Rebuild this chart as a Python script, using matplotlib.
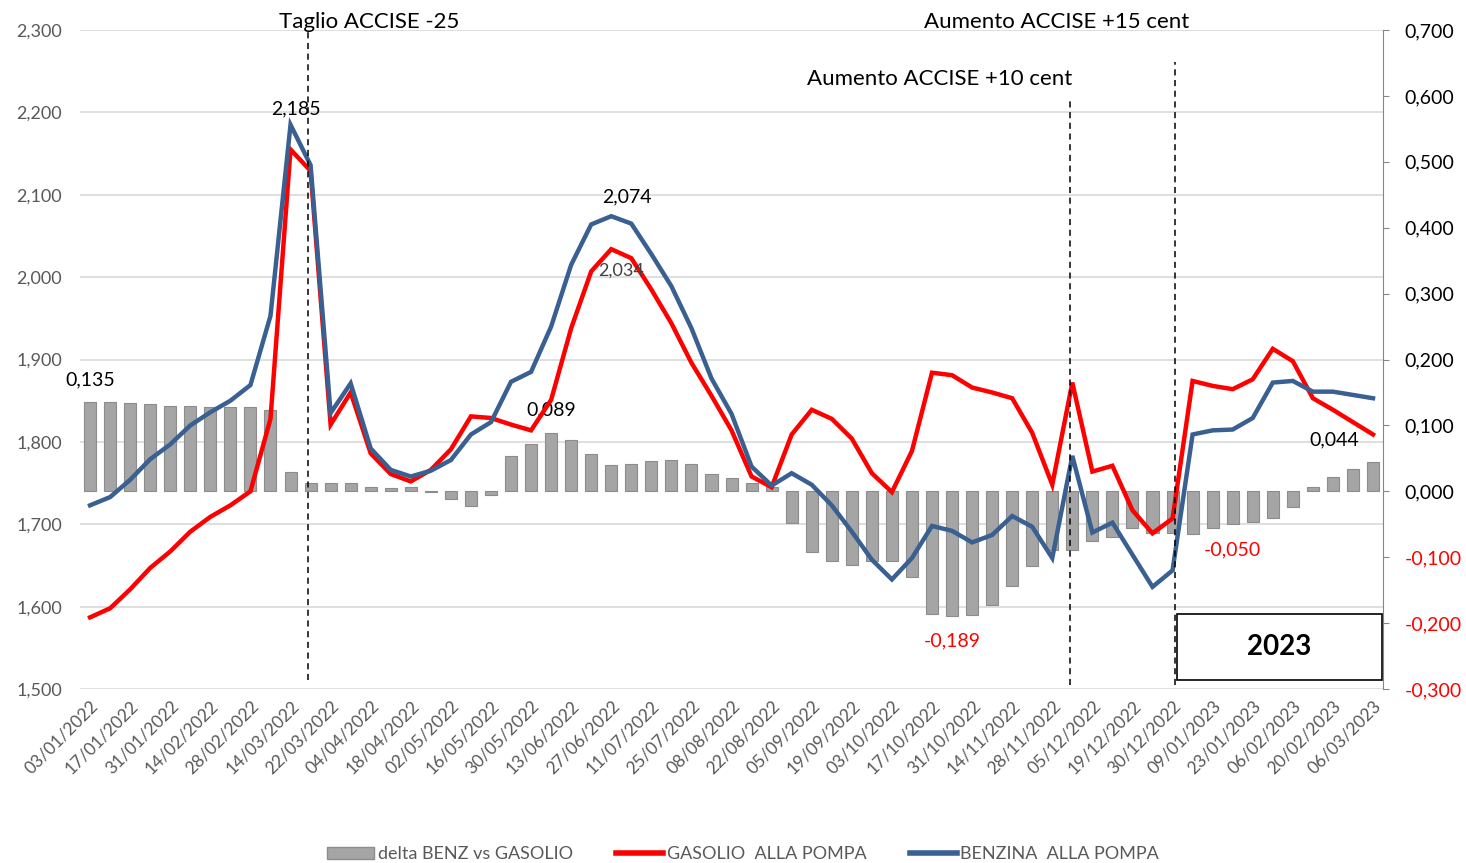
import numpy as np
import matplotlib.pyplot as plt
from matplotlib.patches import Rectangle, Patch
from matplotlib.lines import Line2D
from matplotlib.ticker import FuncFormatter

plt.rcParams['font.family'] = ['Lato', 'DejaVu Sans']

# weekly prices (EUR/l)
benzina = [1.723, 1.733, 1.754, 1.779, 1.797, 1.820, 1.836, 1.850, 1.869, 1.953,
           2.185, 2.136, 1.835, 1.871, 1.792, 1.766, 1.758, 1.765, 1.778, 1.809,
           1.824, 1.873, 1.885, 1.940, 2.015, 2.064, 2.074, 2.065, 2.028, 1.989,
           1.938, 1.877, 1.834, 1.770, 1.747, 1.762, 1.748, 1.723, 1.691, 1.657,
           1.633, 1.659, 1.698, 1.692, 1.678, 1.687, 1.710, 1.697, 1.659, 1.783,
           1.690, 1.702, 1.663, 1.624, 1.644, 1.809, 1.814, 1.815, 1.829, 1.872,
           1.874, 1.861, 1.861, 1.857, 1.853]
gasolio = [1.587, 1.598, 1.621, 1.647, 1.667, 1.691, 1.709, 1.723, 1.740, 1.828,
           2.155, 2.129, 1.821, 1.860, 1.786, 1.761, 1.752, 1.766, 1.791, 1.831,
           1.829, 1.821, 1.814, 1.851, 1.938, 2.007, 2.034, 2.023, 1.985, 1.944,
           1.896, 1.856, 1.814, 1.758, 1.745, 1.809, 1.839, 1.828, 1.804, 1.762,
           1.739, 1.789, 1.884, 1.881, 1.866, 1.860, 1.853, 1.811, 1.748, 1.872,
           1.764, 1.771, 1.717, 1.689, 1.707, 1.874, 1.868, 1.864, 1.876, 1.913,
           1.898, 1.853, 1.839, 1.824, 1.809]
delta = [0.135, 0.136, 0.134, 0.132, 0.130, 0.129, 0.128, 0.128, 0.128, 0.124,
         0.030, 0.013, 0.013, 0.012, 0.006, 0.005, 0.007, -0.001, -0.012, -0.022,
         -0.005, 0.053, 0.072, 0.089, 0.078, 0.057, 0.040, 0.042, 0.046, 0.047,
         0.042, 0.026, 0.020, 0.013, 0.006, -0.048, -0.092, -0.106, -0.112, -0.106,
         -0.106, -0.130, -0.186, -0.189, -0.188, -0.172, -0.143, -0.113, -0.089, -0.089,
         -0.075, -0.069, -0.055, -0.064, -0.064, -0.065, -0.055, -0.050, -0.046, -0.041,
         -0.024, 0.007, 0.022, 0.034, 0.044]

date_labels = ['03/01/2022', '17/01/2022', '31/01/2022', '14/02/2022', '28/02/2022',
               '14/03/2022', '22/03/2022', '04/04/2022', '18/04/2022', '02/05/2022',
               '16/05/2022', '30/05/2022', '13/06/2022', '27/06/2022', '11/07/2022',
               '25/07/2022', '08/08/2022', '22/08/2022', '05/09/2022', '19/09/2022',
               '03/10/2022', '17/10/2022', '31/10/2022', '14/11/2022', '28/11/2022',
               '05/12/2022', '19/12/2022', '30/12/2022', '09/01/2023', '23/01/2023',
               '06/02/2023', '20/02/2023', '06/03/2023']

# events: (position between weeks, text)
events_x = [10.85, 48.9, 54.1]

x = np.arange(len(benzina))
gray_txt = '#595959'
blue = '#3A6091'
red = '#FF0000'

def fmt(v):
    return f"{v:.3f}".replace('.', ',')

fig = plt.figure(figsize=(14.66, 8.63), dpi=100)
ax = fig.add_axes([0.0546, 0.2016, 0.8888, 0.7636])
ax.set_xlim(-0.5, len(x) - 0.5)
ax.set_ylim(1.5, 2.3)
ax.set_yticks(np.arange(1.5, 2.31, 0.1))
ax.yaxis.set_major_formatter(FuncFormatter(lambda v, p: fmt(v)))
ax.grid(axis='y', color='#D9D9D9', linewidth=1.2)
ax.set_axisbelow(True)
for s in ax.spines.values():
    s.set_visible(False)
ax.tick_params(axis='y', length=0, pad=13, labelsize=13, labelcolor=gray_txt)
ax.set_xticks(x[::2])
ax.set_xticklabels(date_labels, rotation=45, ha='right', rotation_mode='anchor')
ax.tick_params(axis='x', length=0, pad=6, labelsize=12.5, labelcolor=gray_txt)

# bars on right axis
axb = ax.twinx()
axb.set_ylim(-0.3, 0.7)
axb.set_yticks(np.arange(-0.3, 0.71, 0.1))
axb.yaxis.set_major_formatter(FuncFormatter(lambda v, p: fmt(v)))
axb.bar(x, delta, width=0.6, color='#A5A5A5', edgecolor='#8C8C8C', linewidth=0.8)
for s in ['top', 'left', 'bottom']:
    axb.spines[s].set_visible(False)
axb.spines['right'].set_color('#868686')
axb.tick_params(axis='y', length=4.5, color='#868686', pad=11, labelsize=14)
for lab, v in zip(axb.get_yticklabels(), axb.get_yticks()):
    lab.set_color(red if v < -1e-9 else 'black')

# lines on top
axl = ax.twinx()
axl.set_ylim(ax.get_ylim())
axl.axis('off')
axl.plot(x, gasolio, color=red, linewidth=3.2, solid_joinstyle='miter')
axl.plot(x, benzina, color=blue, linewidth=3.2, solid_joinstyle='miter')

# event lines
axl.axvline(events_x[0], ymin=0.014, ymax=1.0, color='black', linestyle=(0, (4, 3)), linewidth=1.1)
axl.axvline(events_x[1], ymin=0.006, ymax=0.898, color='black', linestyle=(0, (4, 3)), linewidth=1.1)
axl.axvline(events_x[2], ymin=0.006, ymax=0.951, color='black', linestyle=(0, (4, 3)), linewidth=1.1)
fig.text(369 / 1466, 1 - 22 / 863, 'Taglio ACCISE -25', ha='center', va='center', fontsize=16)
fig.text(1057 / 1466, 1 - 22 / 863, 'Aumento ACCISE +15 cent', ha='center', va='center', fontsize=16)
fig.text(940 / 1466, 1 - 79 / 863, 'Aumento ACCISE +10 cent', ha='center', va='center', fontsize=16)

# data labels
axl.annotate(fmt(benzina[10]), (10, benzina[10]), xytext=(4, 5), textcoords='offset points',
             ha='center', va='bottom', fontsize=14)
axl.annotate(fmt(benzina[26]), (26, benzina[26]), xytext=(11, 8), textcoords='offset points',
             ha='center', va='bottom', fontsize=14)
axl.annotate(fmt(gasolio[26]), (26, gasolio[26]), xytext=(7, -10), textcoords='offset points',
             ha='center', va='top', fontsize=13, color='#404040')
axb.annotate(fmt(delta[0]), (0, delta[0]), xytext=(0, 10), textcoords='offset points',
             ha='center', va='bottom', fontsize=14)
axb.annotate(fmt(delta[23]), (23, delta[23]), xytext=(0, 10), textcoords='offset points',
             ha='center', va='bottom', fontsize=14)
axb.annotate(fmt(delta[64]), (64, delta[64]), xytext=(-28, 10), textcoords='offset points',
             ha='center', va='bottom', fontsize=14)
axb.annotate(fmt(delta[43]), (43, delta[43]), xytext=(0, -12), textcoords='offset points',
             ha='center', va='top', fontsize=14, color=red)
axb.annotate(fmt(delta[57]), (57, delta[57]), xytext=(0, -12), textcoords='offset points',
             ha='center', va='top', fontsize=14, color=red)

# 2023 box
axl.add_patch(Rectangle((54.2, 1.511), 10.25, 0.08, facecolor='white', edgecolor='black',
                        linewidth=1.2, zorder=5))
axl.text(54.2 + 10.25 / 2, 1.551, '2023', ha='center', va='center', fontsize=20,
         fontweight='bold', zorder=6)

handles = [Patch(facecolor='#A5A5A5', edgecolor='#8C8C8C'),
           Line2D([], [], color=red, linewidth=4),
           Line2D([], [], color=blue, linewidth=4)]
labels = ['delta BENZ vs GASOLIO', 'GASOLIO  ALLA POMPA', 'BENZINA  ALLA POMPA']
fig.legend(handles, labels, loc='center', bbox_to_anchor=(0.507, 0.01), ncol=3,
           frameon=False, fontsize=13, labelcolor=gray_txt, handlelength=2.6,
           handletextpad=0.2, columnspacing=2.4)

fig.savefig('out.png', dpi=100)
